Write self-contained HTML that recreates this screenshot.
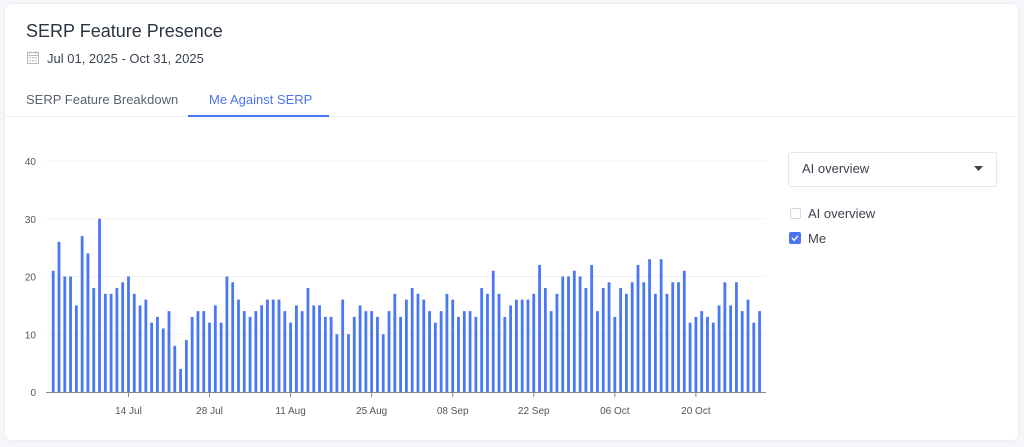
<!DOCTYPE html>
<html><head><meta charset="utf-8">
<style>
body{margin:0;background:#f4f6f9;font-family:"Liberation Sans",Arial,sans-serif;}
.card{position:absolute;left:5px;top:4px;width:1013px;height:436px;background:#fff;border-radius:6px;box-shadow:0 0 2px rgba(0,0,0,.08);}
.t{position:absolute;white-space:nowrap;}
</style></head><body>
<div style="position:relative;width:1024px;height:447px;overflow:hidden">
<div class="card"></div>
<div class="t" style="left:26px;top:21px;font-size:18px;color:#2b3440">SERP Feature Presence</div>
<svg class="t" style="left:27px;top:51px" width="12" height="13" viewBox="0 0 12 13"><rect x="0.5" y="1.5" width="11" height="11" fill="none" stroke="#b5bac2"/><line x1="0.5" y1="4.5" x2="11.5" y2="4.5" stroke="#b5bac2"/><line x1="3" y1="0" x2="3" y2="3" stroke="#b5bac2"/><line x1="9" y1="0" x2="9" y2="3" stroke="#b5bac2"/><g fill="#c5c9cf"><rect x="2" y="6" width="2" height="1.5"/><rect x="5" y="6" width="2" height="1.5"/><rect x="8" y="6" width="2" height="1.5"/><rect x="2" y="9" width="2" height="1.5"/><rect x="5" y="9" width="2" height="1.5"/><rect x="8" y="9" width="2" height="1.5"/></g></svg>
<div class="t" style="left:47px;top:51px;font-size:13px;color:#3b4350">Jul 01, 2025 - Oct 31, 2025</div>
<div class="t" style="left:26px;top:92px;font-size:13px;color:#5a6270">SERP Feature Breakdown</div>
<div class="t" style="left:209px;top:92px;font-size:13px;color:#4a74f0">Me Against SERP</div>
<div class="t" style="left:5px;top:116px;width:1013px;height:1px;background:#eceef1"></div>
<div class="t" style="left:188px;top:115px;width:141px;height:2px;background:#4a74f0"></div>
<div class="t" style="left:788px;top:152px;width:207px;height:33px;border:1px solid #e3e5e9;border-radius:3px"></div>
<div class="t" style="left:802px;top:161px;font-size:13px;color:#3b4350">AI overview</div>
<svg class="t" style="left:974px;top:166px" width="9" height="5"><polygon points="0,0 9,0 4.5,5" fill="#3b4350"/></svg>
<div class="t" style="left:790px;top:208px;width:9px;height:9px;border:1px solid #d5d8dd;border-radius:2px"></div>
<div class="t" style="left:808px;top:206px;font-size:13px;color:#3b4350">AI overview</div>
<svg class="t" style="left:789px;top:232px" width="12" height="12"><rect width="12" height="12" rx="2" fill="#4a74f0"/><polyline points="3,6 5.2,8.3 9,3.8" fill="none" stroke="#fff" stroke-width="1.4"/></svg>
<div class="t" style="left:808px;top:231px;font-size:13px;color:#3b4350">Me</div>
<svg id="ch" class="t" style="left:0;top:0" width="780" height="430"></svg>
</div>
<script>
var d=[21,26,20,20,15,27,24,18,30,17,17,18,19,20,17,15,16,12,13,11,14,8,4,9,13,14,14,12,15,12,20,19,16,14,13,14,15,16,16,16,
14,12,15,14,18,15,15,13,13,10,16,10,13,15,14,14,13,10,14,17,13,16,18,17,16,14,12,14,17,16,13,14,14,13,18,17,21,17,13,15,
16,16,16,17,22,18,14,17,20,20,21,20,18,22,14,18,19,13,18,17,19,22,19,23,17,23,17,19,19,21,12,13,14,13,12,15,19,15,19,14,16,12,14];
var s='',y0=392,k=5.775,dx=5.79,x0=53.2;
[0,10,20,30,40].forEach(function(v){var y=y0-v*k;if(v>0)s+='<line x1="46" x2="766" y1="'+y+'" y2="'+y+'" stroke="#f1f2f4"/>';s+='<text x="36" y="'+(y+4)+'" font-size="10" fill="#555" text-anchor="end" font-family="Liberation Sans">'+v+'</text>';});
d.forEach(function(v,i){var x=x0+i*dx;s+='<rect x="'+(x-1.4)+'" y="'+(y0-v*k)+'" width="2.8" height="'+(v*k)+'" fill="#4a78f5"/>';});
s+='<line x1="46" x2="766" y1="392.5" y2="392.5" stroke="#888"/>';
['14 Jul','28 Jul','11 Aug','25 Aug','08 Sep','22 Sep','06 Oct','20 Oct'].forEach(function(l,j){var x=x0+(13+14*j)*dx;s+='<line x1="'+x+'" x2="'+x+'" y1="392" y2="397" stroke="#888"/><text x="'+x+'" y="414" font-size="10" fill="#555" text-anchor="middle" font-family="Liberation Sans">'+l+'</text>';});
document.getElementById('ch').innerHTML=s;
</script>
</body></html>
